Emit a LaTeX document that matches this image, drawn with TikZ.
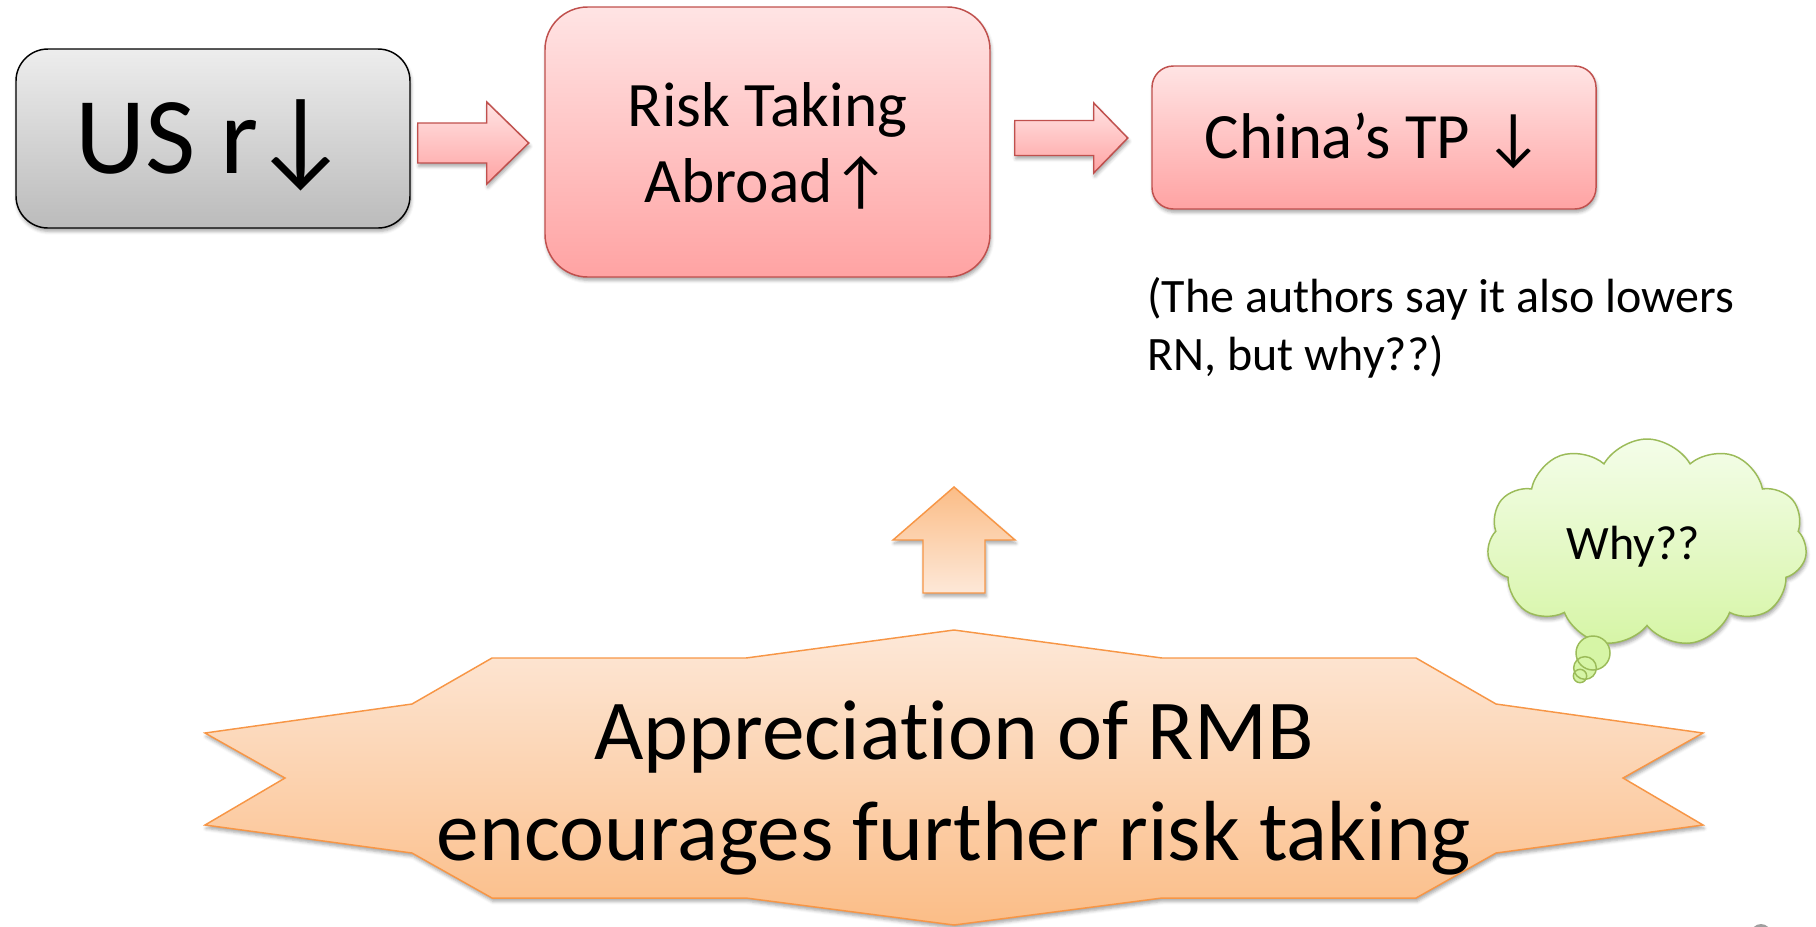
\documentclass[tikz,border=0pt]{standalone}
\usepackage{fontspec}
\setmainfont{Carlito}[Ligatures=NoCommon]
\usetikzlibrary{shapes.symbols,shadows.blur,calc}
\definecolor{grayTop}{HTML}{EDEDED}
\definecolor{grayBot}{HTML}{BBBBBB}
\definecolor{pinkTop}{HTML}{FFE4E4}
\definecolor{pinkBot}{HTML}{FFA3A3}
\definecolor{pinkLine}{HTML}{C0504D}
\definecolor{orTop}{HTML}{FDE8D8}
\definecolor{orBot}{HTML}{FBBD87}
\definecolor{orLine}{HTML}{F79646}
\definecolor{clTop}{HTML}{F4FDE9}
\definecolor{clBot}{HTML}{D6F5A6}
\definecolor{clLine}{HTML}{9BBB59}
\begin{document}
\begin{tikzpicture}[x=0.75pt,y=-0.75pt,
  shad/.style={blur shadow={shadow xshift=0.8pt,shadow yshift=-2.5pt,shadow blur radius=2.5pt,shadow opacity=35}},
  graybox/.style={draw=black,line width=1.1pt,rounded corners=24pt,top color=grayTop,bottom color=grayBot,shad},
  pinkbox/.style={draw=pinkLine,line width=1.1pt,top color=pinkTop,bottom color=pinkBot,shad},
  pinkarrow/.style={draw=pinkLine,line width=1.1pt,top color=pinkTop,bottom color=pinkBot,shad,line join=miter},
  starshape/.style={draw=orLine,line width=1.1pt,top color=orTop,bottom color=orBot,shad,line join=miter},
  uparrow/.style={draw=orLine,line width=1.1pt,top color=orBot,bottom color=orTop,shad,line join=miter},
  cloudshape/.style={draw=clLine,line width=1.1pt,top color=clTop,bottom color=clBot},
]
\useasboundingbox (0,0) rectangle (1816,926);

% top row
\node[graybox,minimum width=295.5pt,minimum height=134.25pt,text height=53pt,text depth=0pt,font=\fontsize{82}{90}\selectfont] (us) at (213,138.5) {US r\kern-5pt↓};
\node[pinkbox,rounded corners=32pt,minimum width=333.75pt,minimum height=202.5pt,text height=91pt,text depth=0pt,align=center,font=\fontsize{47.5}{57}\selectfont] (risk) at (767.5,142) {Risk Taking\\Abroad↑};
\node[pinkbox,rounded corners=16pt,minimum width=333pt,minimum height=107.25pt,text height=30.75pt,text depth=0pt,font=\fontsize{48.5}{54}\selectfont] (china) at (1374,137.5) {China’s TP ↓};

% block arrows
\draw[pinkarrow] ([shift={(7,-15.5)}]us.east) -- ++(69,0) -- ++(0,-21) -- ++(42,41) -- ++(-42,41) -- ++(0,-21) -- ++(-69,0) -- cycle;
\draw[pinkarrow] ([shift={(24,-21.5)}]risk.east) -- ++(79,0) -- ++(0,-17.5) -- ++(34,35) -- ++(-34,35) -- ++(0,-17.5) -- ++(-79,0) -- cycle;

% note
\node[anchor=base west,align=left,inner sep=0pt,font=\fontsize{36}{43.5}\selectfont] (note) at (1147,370) {(The authors say it also lowers\\RN, but why??)};

% star
\draw[starshape] (954,630) -- (1162,658) -- (1416,658) -- (1496,704) -- (1703,733) -- (1623,778) -- (1703,825) -- (1496,853) -- (1416,898) -- (1162,898) -- (954,925) -- (746,898) -- (492,898) -- (412,853) -- (205,825) -- (285,778) -- (205,733) -- (412,704) -- (492,658) -- (746,658) -- cycle;
\node[align=center,font=\fontsize{64}{75.75}\selectfont] (rmb) at (954,788) {Appreciation of RMB\\encourages further risk taking};

% up arrow
\coordinate (upbase) at (954,593);
\draw[uparrow] ([shift={(-31,0)}]upbase) -- ++(0,-53) -- ++(-30,0) -- ++(61,-53) -- ++(61,53) -- ++(-30,0) -- ++(0,53) -- cycle;

% cloud
\node[cloud,cloud puffs=11,cloud puff arc=120,aspect=1.6,cloudshape,shad,minimum width=240pt,minimum height=156pt,inner sep=0pt] (cloud) at (1647,543) {};
\fill[clBot] (1593,653) circle[radius=12.75pt];
\fill[clBot] (1585,668) circle[radius=8.5pt];
\fill[clBot] (1580,676) circle[radius=5pt];
\draw[clLine,line width=1.1pt] (1593,653) circle[radius=12.75pt];
\draw[clLine,line width=1.1pt] (1585,668) circle[radius=8.5pt];
\draw[clLine,line width=1.1pt] (1580,676) circle[radius=5pt];
\node[font=\fontsize{36}{42}\selectfont] (why) at (1633,547) {Why??};

% corner mark
\fill[gray!75] (1761,934) circle[radius=7.5pt];
\end{tikzpicture}
\end{document}
